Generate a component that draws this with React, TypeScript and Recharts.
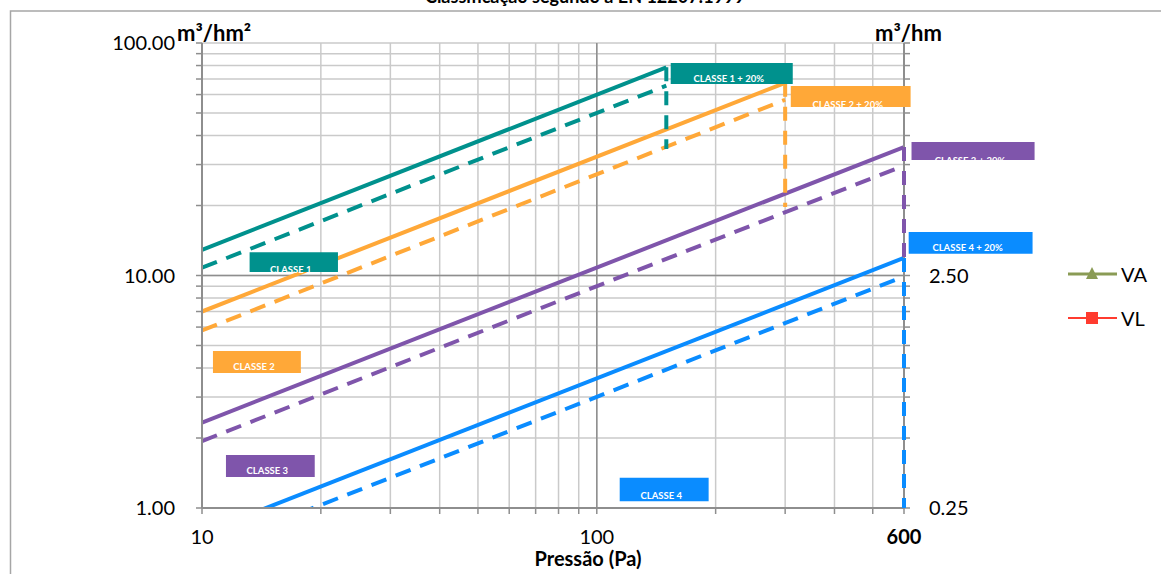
import {
  LineChart,
  Line,
  XAxis,
  YAxis,
  CartesianGrid,
  ReferenceLine,
  ReferenceArea,
  Legend,
} from "recharts";

// classes de permeabilidade ao ar (m3/hm2)
const classNames = ["CLASSE 1", "CLASSE 2", "CLASSE 3", "CLASSE 4"];
const startPressure = [10, 10, 10, 10];
const maxPressure = [150, 300, 600, 600];
const limitStart = [10.8, 5.8, 1.94, 0.65];
const limitEnd = [65.5, 57, 29.7, 9.9];
const plusStart = [12.9, 7.0, 2.33, 0.78];
const plusEnd = [78.6, 67.4, 35.7, 11.9];
const dropEnd = [35, 19.7, 11.5, 1];

const xTicks = [10, 20, 30, 40, 50, 60, 70, 80, 90, 100, 200, 300, 400, 500, 600];
const xLabels = [10, 100, 600];
const yTicks = [1, 2, 3, 4, 5, 6, 7, 8, 9, 10, 20, 30, 40, 50, 60, 70, 80, 90, 100];
const yLabels = [1, 10, 100];
const yRightTicks = [0.25, 0.5, 0.75, 1, 1.25, 1.5, 1.75, 2, 2.25, 2.5, 5, 7.5, 10, 12.5, 15, 17.5, 20, 22.5, 25];
const yRightLabels = [0.25, 2.5];
const legendNames = ["VA", "VL"];

const colors = ["#00918D", "#FFA838", "#7F55AB", "#0A8CFF"];
const legendColors = ["#8A9B55", "#FF3B2F"];

// caixas de texto (Pa, m3/hm2)
const boxes = [
  { text: "CLASSE 1", p1: 13.2, p2: 22.1, v1: 10.36, v2: 12.6, c: 0, dy: 1 },
  { text: "CLASSE 2", p1: 10.66, p2: 17.8, v1: 3.81, v2: 4.73, c: 1, dy: -3 },
  { text: "CLASSE 3", p1: 11.5, p2: 19.3, v1: 1.36, v2: 1.69, c: 2, dy: -3 },
  { text: "CLASSE 4", p1: 114.3, p2: 192, v1: 1.07, v2: 1.35, c: 3, dy: -2 },
  { text: "CLASSE 1 + 20%", p1: 153.9, p2: 313.6, v1: 66.6, v2: 82, c: 0, dy: -2 },
  { text: "CLASSE 2 + 20%", p1: 310, p2: 623.6, v1: 53.1, v2: 65.3, c: 1, dy: 1 },
  { text: "CLASSE 3 + 20%", p1: 626.9, p2: 1285, v1: 31.4, v2: 37.5, c: 2, dy: 4 },
  { text: "CLASSE 4 + 20%", p1: 616.6, p2: 1270, v1: 12.4, v2: 15.4, c: 3, dy: -3 },
];

const series = classNames.map((name, i) => ({
  name,
  limit: [
    { p: startPressure[i], v: limitStart[i] },
    { p: maxPressure[i], v: limitEnd[i] },
  ],
  plus: [
    { p: startPressure[i], v: plusStart[i] },
    { p: maxPressure[i], v: plusEnd[i] },
  ],
  drop: [
    { p: maxPressure[i], v: plusEnd[i] },
    { p: maxPressure[i], v: dropEnd[i] },
  ],
}));

const font = "Lato, 'Liberation Sans', sans-serif";
const gray = "#8E8E8E";

const XTick = (props: any) => {
  const { x, y, payload } = props;
  if (!xLabels.includes(payload.value)) return null;
  return (
    <text
      x={x}
      y={y + 28}
      textAnchor="middle"
      fontSize={20}
      fontFamily={font}
      fontWeight={payload.value === 600 ? 700 : 400}
      fill="#000"
    >
      {payload.value}
    </text>
  );
};

const boxLabel = (text: string, dy: number) => (props: any) => {
  const vb = props.viewBox || {};
  return (
    <text
      x={vb.x + vb.width / 2 - 3}
      y={vb.y + vb.height + dy}
      textAnchor="middle"
      fontSize={9.5}
      fontWeight={700}
      fontFamily={font}
      fill="#fff"
    >
      {text}
    </text>
  );
};

const renderLegend = () => (
  <div style={{ fontFamily: font }}>
    {legendNames.map((n, i) => (
      <div key={n} style={{ display: "flex", alignItems: "center", height: 22, marginBottom: 22 }}>
        <svg width={54} height={20}>
          <line x1={2} y1={10} x2={51} y2={10} stroke={legendColors[i]} strokeWidth={i === 0 ? 3 : 2} />
          {i === 0 ? (
            <polygon points="26,3 32,15 20,15" fill={legendColors[i]} />
          ) : (
            <rect x={20} y={4} width={12} height={12} fill={legendColors[i]} />
          )}
        </svg>
        <span style={{ fontSize: 20, marginLeft: 1, color: "#000" }}>{n}</span>
      </div>
    ))}
  </div>
);

export default function App() {
  return (
    <div style={{ position: "absolute", left: 0, top: 0, width: 1161, height: 574, background: "#fff" }}>
      <svg style={{ position: "absolute", left: 0, top: 0 }} width={1161} height={574}>
        <rect x={10.5} y={11} width={1200} height={600} fill="none" stroke="#A6A6A6" strokeWidth={1.5} />
      </svg>
      <LineChart
        width={1161}
        height={574}
        margin={{ top: 43, right: 197, bottom: 26, left: 122 }}
        style={{ position: "absolute", left: 0, top: 0 }}
      >
        <CartesianGrid yAxisId="left" stroke="#CACACA" strokeWidth={1.5} />
        <XAxis
          dataKey="p"
          type="number"
          scale="log"
          domain={[10, 600]}
          ticks={xTicks}
          allowDataOverflow
          height={40}
          tickSize={6}
          axisLine={{ stroke: gray, strokeWidth: 2 }}
          tickLine={{ stroke: gray, strokeWidth: 1.5 }}
          tick={<XTick />}
          interval={0}
        />
        <YAxis
          yAxisId="left"
          type="number"
          scale="log"
          domain={[1, 100]}
          ticks={yTicks}
          allowDataOverflow
          width={80}
          tickSize={6}
          tickMargin={21}
          interval={0}
          axisLine={{ stroke: gray, strokeWidth: 2 }}
          tickLine={{ stroke: gray, strokeWidth: 1.5 }}
          tick={{ fill: "#000", fontSize: 20, fontFamily: font }}
          tickFormatter={(v: number) => (yLabels.includes(v) ? v.toFixed(2) : "")}
        />
        <YAxis
          yAxisId="right"
          orientation="right"
          type="number"
          scale="log"
          domain={[0.25, 25]}
          ticks={yRightTicks}
          allowDataOverflow
          width={60}
          tickSize={6}
          tickMargin={19}
          interval={0}
          axisLine={{ stroke: gray, strokeWidth: 2 }}
          tickLine={{ stroke: gray, strokeWidth: 1.5 }}
          tick={{ fill: "#000", fontSize: 20, fontFamily: font }}
          tickFormatter={(v: number) => (yRightLabels.includes(v) ? v.toFixed(2) : "")}
        />
        {/* eixos ocultos para as verticais tracejadas (sem recorte) */}
        <XAxis xAxisId="drop" dataKey="p" type="number" scale="log" domain={[10, 600]} height={0} hide />
        <YAxis yAxisId="drop" type="number" scale="log" domain={[1, 100]} width={0} hide />
        <ReferenceLine yAxisId="left" y={10} stroke={gray} strokeWidth={1.5} />
        <ReferenceLine yAxisId="left" x={100} stroke={gray} strokeWidth={1.5} />
        {series.map((s, i) => (
          <Line
            key={s.name + "-plus"}
            data={s.plus}
            dataKey="v"
            yAxisId="left"
            stroke={colors[i]}
            strokeWidth={4}
            dot={false}
            legendType="none"
            isAnimationActive={false}
          />
        ))}
        {series.map((s, i) => (
          <Line
            key={s.name + "-limit"}
            data={s.limit}
            dataKey="v"
            yAxisId="left"
            stroke={colors[i]}
            strokeWidth={4}
            strokeDasharray="16 10"
            dot={false}
            legendType="none"
            isAnimationActive={false}
          />
        ))}
        {series.map((s, i) => (
          <Line
            key={s.name + "-drop"}
            data={s.drop}
            dataKey="v"
            xAxisId="drop"
            yAxisId="drop"
            stroke={colors[i]}
            strokeWidth={4}
            strokeDasharray="14 10"
            dot={false}
            legendType="none"
            isAnimationActive={false}
            {...({ zIndex: 700 } as any)}
          />
        ))}
        {legendNames.map((n, i) => (
          <Line
            key={n}
            name={n}
            data={[]}
            dataKey="v"
            yAxisId="left"
            stroke={legendColors[i]}
            dot={false}
            isAnimationActive={false}
          />
        ))}
        {boxes.map((b) => (
          <ReferenceArea
            key={b.text}
            yAxisId="left"
            x1={b.p1}
            x2={b.p2}
            y1={b.v1}
            y2={b.v2}
            fill={colors[b.c]}
            fillOpacity={1}
            stroke="none"
            ifOverflow="visible"
            label={boxLabel(b.text, b.dy)}
            {...({ zIndex: 800 } as any)}
          />
        ))}
        <Legend
          layout="vertical"
          align="center"
          verticalAlign="middle"
          wrapperStyle={{ left: 1066, top: 263, width: 90 }}
          content={renderLegend}
        />
      </LineChart>
      <svg style={{ position: "absolute", left: 0, top: 0, pointerEvents: "none" }} width={1161} height={574}>
        <text x={585} y={3} textAnchor="middle" fontSize={18} fontWeight={700} fontFamily={font} fill="#000">
          Classificação segundo a EN 12207:1999
        </text>
        <text x={177} y={41} fontSize={22} fontWeight={700} fontFamily={font} fill="#000">
          m³/hm²
        </text>
        <text x={875} y={41} fontSize={22} fontWeight={700} fontFamily={font} fill="#000">
          m³/hm
        </text>
        <text x={588} y={566} textAnchor="middle" fontSize={20} fontWeight={700} fontFamily={font} fill="#000">
          Pressão (Pa)
        </text>
      </svg>
    </div>
  );
}
